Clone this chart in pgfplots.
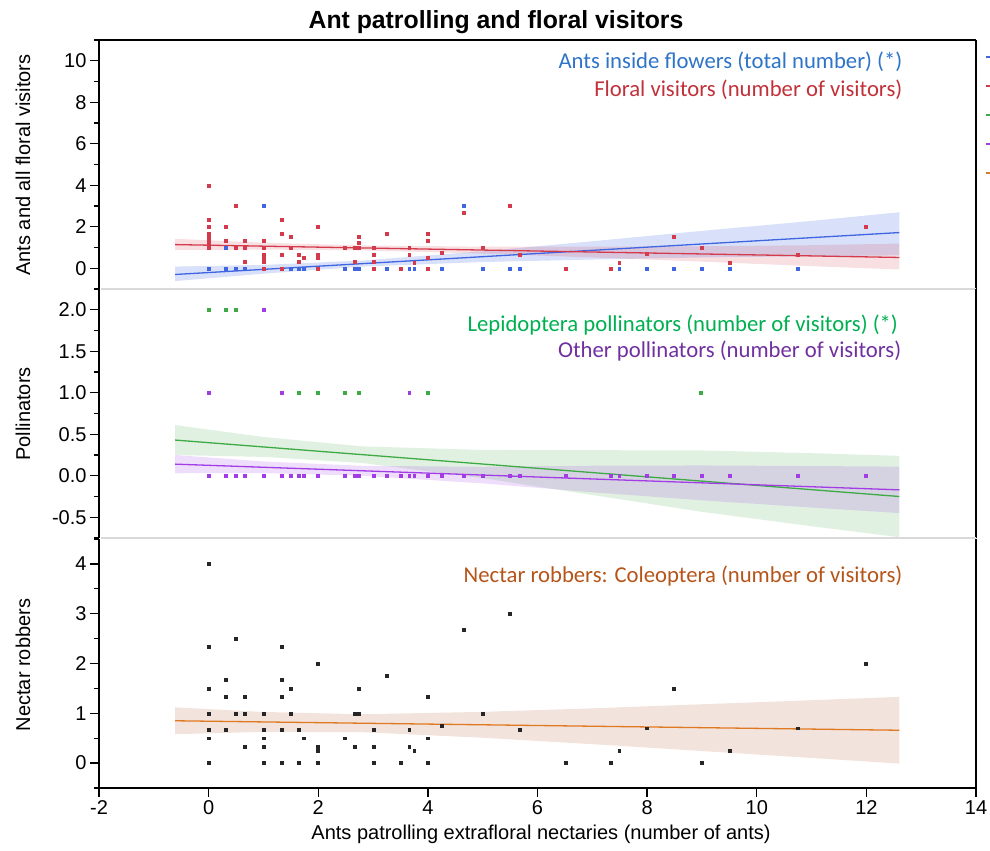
\documentclass[border=0pt]{standalone}
\usepackage{fontspec}
\setmainfont{Liberation Sans}
\newfontfamily\carlito{Carlito}
\usepackage{pgfplots}
\pgfplotsset{compat=1.18}
\definecolor{cBlueT}{HTML}{2E74C6}
\definecolor{cRedT}{HTML}{C0313A}
\definecolor{cGreenT}{HTML}{00B050}
\definecolor{cPurpT}{HTML}{7030A0}
\definecolor{cOrT}{HTML}{B5551A}
\definecolor{cBlue}{HTML}{3F66E0}
\definecolor{cRed}{HTML}{D33A4C}
\definecolor{cGreen}{HTML}{3DAA45}
\definecolor{cPurp}{HTML}{A23DE6}
\definecolor{cOr}{HTML}{E07A22}
\definecolor{bOr}{HTML}{F3E3DD}
\definecolor{sepc}{HTML}{D9D9D9}
\pgfplotsset{
  panel/.style={
    scale only axis, width=877bp, height=249bp,
    xmin=-2, xmax=14, xtick={-2,0,...,14},
    clip mode=individual,
    axis y line*=left,
    axis line style={black, line width=1.4bp},
    tick align=outside,
    major tick length=9bp, minor tick length=5bp,
    major tick style={black, line width=1.3bp},
    minor tick style={black, line width=1.3bp},
    tick label style={font=\fontsize{20bp}{24bp}\selectfont},
    /pgf/number format/assume math mode=true,
  },
  pt/.style={only marks, mark=square*, mark size=1.45bp, mark options={line width=0.4bp}, forget plot},
  fitline/.style={line width=1.3bp, no marks, forget plot},
}
\tikzset{ann/.style={anchor=east, inner sep=0pt, font=\carlito\fontsize{22.7bp}{26bp}\selectfont}}
\begin{document}
\begin{tikzpicture}
\useasboundingbox (0,0) rectangle (990bp,-851bp);
% ---------------- top panel
\begin{axis}[panel, at={(99bp,-40bp)}, anchor=north west,
  ymin=-1, ymax=11, ytick={0,2,...,10}, minor ytick={-1,1,3,5,7,9,11},
  axis x line=none,
  legend image code/.code={\draw[line width=1.6bp,#1] (0bp,0bp) -- (4bp,0bp);},
  legend style={draw=none, fill=none, at={(1.0103,0.936)}, anchor=north west,
    inner sep=0pt, row sep=27.4bp, column sep=0pt,
    nodes={inner sep=0pt, text height=0pt, text depth=0pt}}]
\addlegendimage{color=cBlue}\addlegendentry{}
\addlegendimage{color=cRed}\addlegendentry{}
\addlegendimage{color=cGreen}\addlegendentry{}
\addlegendimage{color=cPurp}\addlegendentry{}
\addlegendimage{color=cOr}\addlegendentry{}
% bands
\addplot[draw=none, fill=cBlue, fill opacity=0.2, forget plot] coordinates {
 (-0.61,0.08) (1,0.16) (2.8,0.37) (5,0.82) (7,1.30) (9,1.80) (11,2.28) (12.6,2.70)
 (12.6,0.62) (11,0.58) (9,0.52) (7,0.42) (5,0.30) (2.8,0.08) (1,-0.26) (-0.61,-0.62)};
\addplot[draw=none, fill=cRed, fill opacity=0.16, forget plot] coordinates {
 (-0.61,1.42) (1,1.23) (2.8,1.10) (5,1.04) (7,1.04) (9,1.06) (11,1.11) (12.6,1.19)
 (12.6,-0.06) (11,0.10) (9,0.32) (7,0.52) (5,0.71) (2.8,0.86) (1,0.90) (-0.61,0.87)};
\addplot[fitline, color=cBlue] coordinates {(-0.61,-0.30) (12.6,1.72)};
\addplot[fitline, color=cRed] coordinates {(-0.61,1.14) (12.6,0.52)};
% ants inside flowers
\addplot[pt, color=cBlue] coordinates {
 (0,0) (0.31,0) (0.5,0) (0.66,0) (1.0,0) (1.34,0) (1.5,0) (1.65,0) (1.74,0) (1.99,0)
 (2.49,0) (2.67,0) (2.73,0) (3.01,0) (3.25,0) (3.66,0) (3.75,0) (4.25,0) (5.0,0)
 (5.49,0) (5.67,0) (7.49,0) (8.0,0) (8.49,0) (9.0,0) (9.51,0) (10.75,0)
 (0.31,1) (1,3) (4.65,3)};
% floral visitors
\addplot[pt, color=cRed] coordinates {
 (0,4) (0,2.33) (0,2) (0,1.67) (0,1.5) (0,1.33) (0,1.2) (0,1)
 (0.31,2) (0.31,1.33) (0.5,3) (0.5,1) (0.66,1.33) (0.66,1) (0.66,0.33)
 (1,1.33) (1,1) (1,0.67) (1,0.58) (1,0.5) (1,0.33) (1,0)
 (1.34,2.33) (1.34,1.67) (1.34,0.67) (1.34,0) (1.5,1.5) (1.5,1)
 (1.65,0.67) (1.65,0.33) (1.74,0.5)
 (1.99,2) (1.99,0.67) (1.99,0.6) (1.99,0.5) (1.99,0) (2.49,1)
 (2.67,1) (2.73,1) (2.73,1.25) (2.73,1.5) (2.67,0.33)
 (3.01,1) (3.01,0.67) (3.01,0.33) (3.01,0) (3.25,1.67) (3.51,0)
 (3.66,1) (3.66,0.67) (3.75,0.25) (4.0,1.67) (4.0,1.33) (4.0,0.5) (4.0,0)
 (4.25,0.75) (4.65,2.67) (5.0,1) (5.49,3) (5.67,0.67)
 (6.51,0) (7.34,0) (7.49,0.25) (8.0,0.7) (8.49,1.5) (9.0,1.0) (9.51,0.25) (10.75,0.67) (11.98,2)};
\node[ann, text=cBlueT] at (axis cs:12.66,9.95) {Ants inside flowers (total number) (*)};
\node[ann, text=cRedT] at (axis cs:12.66,8.6) {Floral visitors (number of visitors)};
\draw[black, line width=1.4bp] (rel axis cs:0,1) -- (rel axis cs:1,1);
\draw[black, line width=2bp] (rel axis cs:1,0) -- (rel axis cs:1,1);
\draw[sepc, line width=1.6bp] (rel axis cs:0.002,0) -- (rel axis cs:1,0);
\end{axis}
% ---------------- middle panel
\begin{axis}[panel, at={(99bp,-289bp)}, anchor=north west,
  ymin=-0.75, ymax=2.25, ytick={-0.5,0,...,2}, minor ytick={-0.75,-0.25,0.25,0.75,1.25,1.75,2.25},
  yticklabel style={/pgf/number format/.cd, fixed, fixed zerofill, precision=1},
  axis x line=none]
\addplot[draw=none, fill=cGreen, fill opacity=0.16, forget plot] coordinates {
 (-0.61,0.61) (1,0.467) (2.8,0.354) (5,0.311) (7,0.308) (9,0.305) (11,0.272) (12.6,0.24)
 (12.6,-0.74) (11,-0.608) (9,-0.435) (7,-0.232) (5,-0.029) (2.8,0.154) (1,0.227) (-0.61,0.25)};
\addplot[draw=none, fill=cPurp, fill opacity=0.17, forget plot] coordinates {
 (-0.61,0.25) (1,0.172) (2.8,0.12) (5,0.108) (7,0.121) (9,0.124) (11,0.117) (12.6,0.11)
 (12.6,-0.45) (11,-0.383) (9,-0.296) (7,-0.199) (5,-0.092) (2.8,0.0) (1,0.032) (-0.61,0.03)};
\addplot[fitline, color=cGreen] coordinates {(-0.61,0.43) (12.6,-0.25)};
\addplot[fitline, color=cPurp] coordinates {(-0.61,0.14) (12.6,-0.17)};
% lepidoptera
\addplot[pt, color=cGreen] coordinates {
 (0,2) (0.31,2) (0.5,2)
 (1.65,1) (1.99,1) (2.49,1) (2.73,1) (4.0,1) (8.98,1)
 (0,0) (0.31,0) (0.5,0) (0.66,0) (1.0,0) (1.34,0) (1.5,0) (1.74,0) (2.67,0) (3.01,0)
 (3.25,0) (3.51,0) (3.66,0) (3.75,0) (4.25,0) (4.65,0) (5.0,0) (5.49,0) (5.67,0)
 (6.51,0) (7.34,0) (7.49,0) (8.0,0) (8.49,0) (9.51,0) (10.75,0) (11.98,0)};
% other pollinators
\addplot[pt, color=cPurp] coordinates {
 (1.0,2) (0,1) (1.34,1) (3.66,1)
 (0,0) (0.31,0) (0.5,0) (0.66,0) (1.0,0) (1.34,0) (1.5,0) (1.65,0) (1.74,0) (1.99,0)
 (2.49,0) (2.67,0) (2.73,0) (3.01,0) (3.25,0) (3.51,0) (3.66,0) (3.75,0) (4.0,0)
 (4.25,0) (4.65,0) (5.0,0) (5.49,0) (5.67,0) (6.51,0) (7.34,0) (7.49,0) (8.0,0)
 (8.49,0) (9.0,0) (9.51,0) (10.75,0) (11.98,0)};
\node[ann, text=cGreenT] at (axis cs:12.58,1.82) {Lepidoptera pollinators (number of visitors) (*)};
\node[ann, text=cPurpT] at (axis cs:12.64,1.506) {Other pollinators (number of visitors)};
\draw[black, line width=2bp] (rel axis cs:1,0) -- (rel axis cs:1,1);
\draw[sepc, line width=1.6bp] (rel axis cs:0.002,0) -- (rel axis cs:1,0);
\end{axis}
% ---------------- bottom panel
\begin{axis}[panel, at={(99bp,-539bp)}, anchor=north west,
  ymin=-0.5, ymax=4.5, ytick={0,...,4}, minor ytick={-0.5,0.5,...,4.5},
  axis x line*=bottom]
\addplot[draw=none, fill=bOr, forget plot] coordinates {
 (-0.61,1.12) (1,1.027) (2.8,0.981) (5,1.029) (7,1.10) (9,1.182) (11,1.263) (12.6,1.33)
 (12.6,-0.01) (11,0.103) (9,0.242) (7,0.38) (5,0.509) (2.8,0.621) (1,0.627) (-0.61,0.58)};
\addplot[fitline, color=cOr] coordinates {(-0.61,0.85) (12.6,0.66)};
\addplot[pt, color=black!85] coordinates {
 (0,4) (0,2.33) (0,1.5) (0,1) (0,0.67) (0,0.5) (0,0)
 (0.31,1.67) (0.31,1.33) (0.31,0.67) (0.5,2.5) (0.5,1)
 (0.66,1.33) (0.66,1) (0.66,0.33)
 (1,1) (1,0.67) (1,0.5) (1,0.33) (1,0)
 (1.34,2.33) (1.34,1.67) (1.34,1.33) (1.34,0.67) (1.34,0)
 (1.5,1.5) (1.5,1) (1.65,0.67) (1.65,0) (1.74,0.5)
 (1.99,2) (1.99,0.33) (1.99,0.29) (1.99,0.25) (1.99,0)
 (2.49,0.5) (2.67,1) (2.73,1) (2.67,0.33) (2.73,1.5)
 (3.01,0.67) (3.01,0.33) (3.01,0) (3.25,1.75) (3.51,0)
 (3.66,0.67) (3.66,0.33) (3.75,0.25) (4,1.33) (4,0.5) (4,0)
 (4.25,0.75) (4.65,2.67) (5,1) (5.49,3) (5.67,0.67)
 (6.51,0) (7.34,0) (7.49,0.25) (8,0.7) (8.49,1.5) (9,0) (9.51,0.25) (10.75,0.7) (11.98,2)};
\node[ann, text=cOrT] at (axis cs:12.66,3.75) {Nectar robbers: Coleoptera (number of visitors)};
\draw[black, line width=2bp] (rel axis cs:1,0) -- (rel axis cs:1,1);
\end{axis}
% titles and labels
\node[font=\bfseries\fontsize{24.8bp}{28bp}\selectfont] at (496bp,-22bp) {Ant patrolling and floral visitors};
\node[rotate=90, font=\fontsize{20bp}{24bp}\selectfont] at (23bp,-165bp) {Ants and all floral visitors};
\node[rotate=90, font=\fontsize{20bp}{24bp}\selectfont] at (23bp,-414bp) {Pollinators};
\node[rotate=90, font=\fontsize{20bp}{24bp}\selectfont] at (23bp,-665bp) {Nectar robbers};
\node[font=\fontsize{20bp}{24bp}\selectfont] at (541bp,-834bp) {Ants patrolling extrafloral nectaries (number of ants)};
\end{tikzpicture}
\end{document}
